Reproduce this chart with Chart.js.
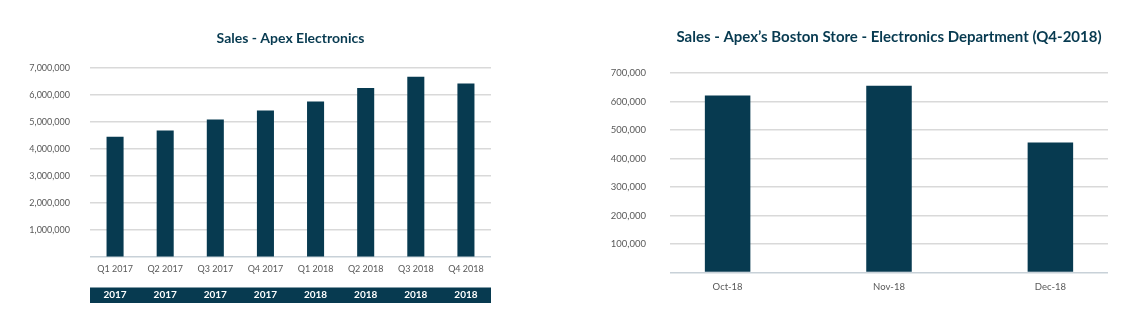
<!DOCTYPE html>
<html>
<head>
<meta charset="utf-8">
<script src="https://cdn.jsdelivr.net/npm/chart.js@4"></script>
<style>
  html, body { margin: 0; padding: 0; background: #fff; }
  .box { position: absolute; top: 0; height: 325px; }
  #left { left: 0; width: 510px; }
  #right { left: 580px; width: 564px; }
</style>
</head>
<body>
<div class="box" id="left"><canvas id="quarterChart"></canvas></div>
<div class="box" id="right"><canvas id="monthChart"></canvas></div>
<script>
const quarters = ['Q1 2017', 'Q2 2017', 'Q3 2017', 'Q4 2017', 'Q1 2018', 'Q2 2018', 'Q3 2018', 'Q4 2018'];
const years = ['2017', '2017', '2017', '2017', '2018', '2018', '2018', '2018'];
const quarterSales = [4450000, 4680000, 5090000, 5420000, 5750000, 6250000, 6670000, 6420000];

const months = ['Oct-18', 'Nov-18', 'Dec-18'];
const monthSales = [621000, 655000, 456000];

const navy = '#073a50';
const tickColor = '#595959';
const gridColor = '#d9d9d9';

Chart.defaults.font.family = 'Lato, sans-serif';

const fmt = v => v === 0 ? '' : v.toLocaleString('en-US');
const gridLine = c => c.tick && c.tick.value === 0 ? '#c8d1d8' : gridColor;

// dark strip behind the year labels
const yearBand = {
  id: 'yearBand',
  beforeDraw(chart) {
    const s = chart.scales.x2;
    const a = chart.chartArea;
    const c = chart.ctx;
    c.save();
    c.fillStyle = navy;
    c.fillRect(a.left, s.bottom - 15.5, a.right - a.left, 15.5);
    c.restore();
  }
};

new Chart(document.getElementById('quarterChart'), {
  type: 'bar',
  data: {
    labels: quarters,
    datasets: [{
      label: 'Sales',
      data: quarterSales,
      backgroundColor: navy,
      barPercentage: 0.34,
      categoryPercentage: 1
    }]
  },
  options: {
    responsive: true,
    maintainAspectRatio: false,
    animation: false,
    layout: { padding: { left: 0, right: 19, top: 0, bottom: 22 } },
    plugins: {
      legend: { display: false },
      tooltip: { enabled: false },
      title: {
        display: true,
        fullSize: false,
        text: 'Sales - Apex Electronics',
        color: navy,
        font: { size: 14, weight: 'bold' },
        padding: { top: 30, bottom: 21 }
      }
    },
    scales: {
      x: {
        grid: { display: false, drawTicks: false },
        border: { display: false },
        ticks: { color: tickColor, font: { size: 9 }, padding: 6, maxRotation: 0 }
      },
      x2: {
        type: 'category',
        position: 'bottom',
        labels: years,
        grid: { display: false, drawTicks: false },
        border: { display: false },
        ticks: { color: '#ffffff', font: { size: 10, weight: 'bold' }, padding: 9, maxRotation: 0 },
        afterFit: s => { s.height = 23; }
      },
      y: {
        min: 0,
        max: 7000000,
        ticks: { stepSize: 1000000, color: tickColor, font: { size: 9 }, padding: 20, callback: fmt },
        grid: { color: gridLine, lineWidth: 1.5, drawTicks: false },
        border: { display: false },
        afterFit: s => { s.width = 90; }
      }
    }
  },
  plugins: [yearBand]
});

new Chart(document.getElementById('monthChart'), {
  type: 'bar',
  data: {
    datasets: [{
      label: 'Sales',
      data: months.map((m, i) => ({ x: i, y: monthSales[i] })),
      backgroundColor: navy,
      barPercentage: 0.282,
      categoryPercentage: 1
    }]
  },
  options: {
    responsive: true,
    maintainAspectRatio: false,
    animation: false,
    layout: { padding: { left: 0, right: 36, top: 0, bottom: 23 } },
    plugins: {
      legend: { display: false },
      tooltip: { enabled: false },
      title: {
        display: true,
        fullSize: false,
        text: 'Sales - Apex\u2019s Boston Store - Electronics Department (Q4-2018)',
        color: navy,
        font: { size: 15, weight: 'bold' },
        padding: { top: 28, bottom: 27 }
      }
    },
    scales: {
      x: {
        type: 'linear',
        offset: false,
        min: -0.357,
        max: 2.357,
        afterBuildTicks: s => { s.ticks = months.map((m, i) => ({ value: i })); },
        grid: { display: false, drawTicks: false },
        border: { display: false },
        ticks: { color: tickColor, font: { size: 9.5 }, padding: 9, callback: v => months[v] }
      },
      y: {
        min: 0,
        max: 700000,
        ticks: { stepSize: 100000, color: tickColor, font: { size: 9.5 }, padding: 24, callback: fmt },
        grid: { color: gridLine, lineWidth: 1.5, drawTicks: false },
        border: { display: false },
        afterFit: s => { s.width = 90; }
      }
    }
  }
});
</script>
</body>
</html>
